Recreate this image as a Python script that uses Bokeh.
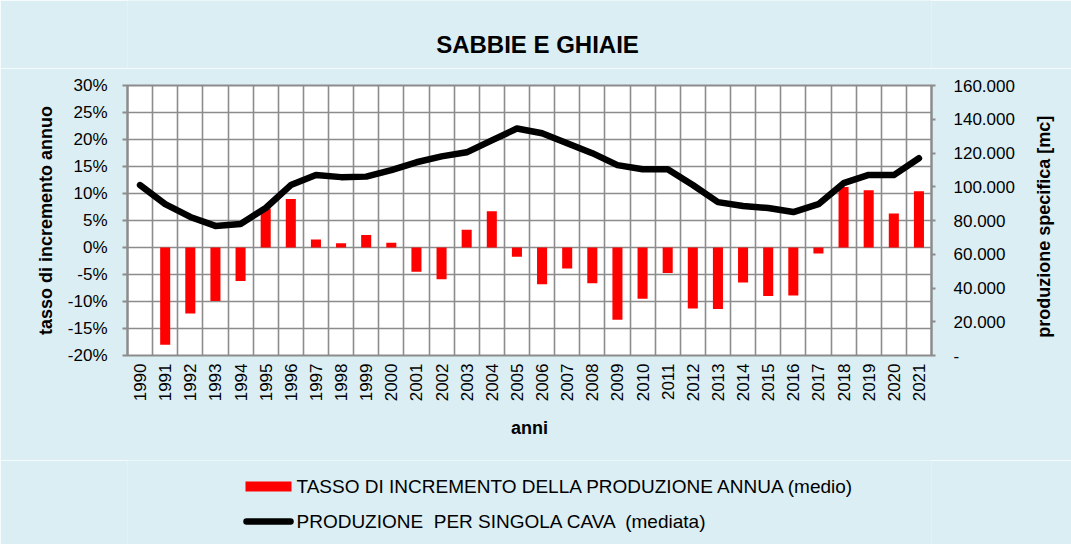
import numpy as np
from bokeh.plotting import figure
from bokeh.layouts import column
from bokeh.models import Range1d, LinearAxis, FixedTicker, PrintfTickFormatter
from bokeh.core.properties import value
from bokeh.embed import file_html
from bokeh.resources import INLINE

# ---------------- data ----------------
years = ["1990", "1991", "1992", "1993", "1994", "1995", "1996", "1997", "1998", "1999",
         "2000", "2001", "2002", "2003", "2004", "2005", "2006", "2007", "2008", "2009",
         "2010", "2011", "2012", "2013", "2014", "2015", "2016", "2017", "2018", "2019",
         "2020", "2021"]

# tasso di incremento annuo (%)
tasso = [np.nan, -18.0, -12.2, -9.9, -6.2, 7.2, 9.0, 1.5, 0.8, 2.3,
         0.9, -4.5, -5.9, 3.3, 6.7, -1.7, -6.8, -3.9, -6.6, -13.4,
         -9.5, -4.7, -11.3, -11.4, -6.5, -9.0, -8.9, -1.1, 11.2, 10.6,
         6.3, 10.4]

# produzione per singola cava (mc)
produzione = [101000, 89700, 82100, 76800, 77900, 87400, 101000, 107000, 105700, 106000,
              109800, 114500, 118000, 120400, 127500, 134500, 131700, 125800, 119900, 112800,
              110400, 110400, 101000, 90900, 88600, 87400, 85000, 89700, 102100, 107000,
              106900, 116900]

left_ticks = [-20, -15, -10, -5, 0, 5, 10, 15, 20, 25, 30]
right_ticks = [0, 20000, 40000, 60000, 80000, 100000, 120000, 140000, 160000]

title_text = "SABBIE E GHIAIE"
left_label = "tasso di incremento annuo"
right_label = "produzione specifica [mc]"
x_label = "anni"
label_bars = "TASSO DI INCREMENTO DELLA PRODUZIONE ANNUA (medio)"
label_line = "PRODUZIONE \u00a0PER SINGOLA CAVA \u00a0(mediata)"

# ---------------- style ----------------
BG = "#DAEEF3"
GRID = "#8c8c8c"
FONT = "Liberation Sans"
W = 1071
BL, BR = 127, 140          # left / right borders shared by all strips (frames align)
FX0, FX1 = BL, W - BR      # frame span in pixels


def strip(height):
    f = figure(width=W, height=height, output_backend="svg", toolbar_location=None,
               x_range=Range1d(FX0, FX1), y_range=Range1d(height, 0),
               x_axis_location=None, y_axis_location=None,
               min_border_left=BL, min_border_right=BR, min_border_top=0, min_border_bottom=0,
               outline_line_color=None,
               background_fill_color=BG, border_fill_color=BG)
    f.grid.visible = False
    return f


# ---------------- title strip ----------------
top = strip(68)
top.text(x=[537], y=[44], text=[title_text], text_align="center", text_baseline="middle",
         text_font=value(FONT), text_font_style="bold", text_font_size="24px",
         text_color="black")

# ---------------- main chart ----------------
idx = list(range(len(years)))

p = figure(width=W, height=392, output_backend="svg", toolbar_location=None,
           x_range=Range1d(-0.5, len(years) - 0.5),
           y_range=Range1d(left_ticks[0], left_ticks[-1]),
           min_border_left=BL, min_border_right=BR, min_border_top=17, min_border_bottom=105,
           background_fill_color="white", border_fill_color=BG,
           outline_line_color=GRID, outline_line_width=2)
p.extra_y_ranges = {"prod": Range1d(right_ticks[0], right_ticks[-1])}

# grids
p.xgrid.ticker = FixedTicker(ticks=[i - 0.5 for i in range(len(years) + 1)])
p.ygrid.ticker = FixedTicker(ticks=left_ticks)
for g in (p.xgrid[0], p.ygrid[0]):
    g.grid_line_color = GRID
    g.grid_line_width = 1.6

# x axis
xa = p.xaxis[0]
xa.ticker = FixedTicker(ticks=idx)
xa.major_label_overrides = {i: y for i, y in zip(idx, years)}
xa.major_label_orientation = np.pi / 2
xa.major_tick_out = 0
xa.major_tick_in = 0
xa.minor_tick_line_color = None
xa.axis_line_color = None
xa.major_label_standoff = 8
xa.major_label_text_font = FONT
xa.major_label_text_font_size = "17px"
xa.major_label_text_color = "black"
xa.axis_label = x_label
xa.axis_label_text_font = FONT
xa.axis_label_text_font_style = "bold"
xa.axis_label_text_font_size = "18px"
xa.axis_label_text_color = "black"
xa.axis_label_standoff = 14

# left axis
ya = p.yaxis[0]
ya.ticker = FixedTicker(ticks=left_ticks)
ya.formatter = PrintfTickFormatter(format="%d%%")
ya.major_tick_out = 5
ya.major_tick_in = 0
ya.minor_tick_line_color = None
ya.major_tick_line_color = GRID
ya.major_tick_line_width = 2
ya.axis_line_color = GRID
ya.axis_line_width = 2
ya.major_label_standoff = 15
ya.major_label_text_font = FONT
ya.major_label_text_font_size = "17px"
ya.major_label_text_color = "black"
ya.axis_label = left_label
ya.axis_label_text_font = FONT
ya.axis_label_text_font_style = "bold"
ya.axis_label_text_font_size = "18px"
ya.axis_label_text_color = "black"
ya.axis_label_standoff = 9

# right axis (ticks and values)
ra = LinearAxis(y_range_name="prod", ticker=FixedTicker(ticks=right_ticks))
ra.major_label_overrides = {t: ("-" if t == 0 else f"{t:,}".replace(",", ".")) for t in right_ticks}
ra.major_tick_out = 4
ra.major_tick_in = 0
ra.minor_tick_line_color = None
ra.major_tick_line_color = GRID
ra.major_tick_line_width = 2
ra.axis_line_color = GRID
ra.axis_line_width = 2
ra.major_label_standoff = 18
ra.major_label_text_font = FONT
ra.major_label_text_font_size = "17px"
ra.major_label_text_color = "black"
p.add_layout(ra, "right")

# right axis title, written bottom-to-top (outer right axis carrying only the title)
title_anchor = 10500  # position (in mc) where the rotated title starts
ra2 = LinearAxis(y_range_name="prod", ticker=FixedTicker(ticks=[title_anchor]))
ra2.major_label_overrides = {title_anchor: right_label}
ra2.major_label_orientation = np.pi / 2
ra2.major_tick_out = 0
ra2.major_tick_in = 0
ra2.major_tick_line_color = None
ra2.minor_tick_line_color = None
ra2.axis_line_color = None
ra2.major_label_standoff = 26
ra2.major_label_text_font = FONT
ra2.major_label_text_font_style = "bold"
ra2.major_label_text_font_size = "18px"
ra2.major_label_text_color = "black"
p.add_layout(ra2, "right")

# glyphs
bars = p.vbar(x=idx, top=tasso, bottom=0, width=0.4, fill_color="#FF0000", line_color=None)
line = p.line(x=idx, y=produzione, y_range_name="prod", line_color="black",
              line_width=6.5, line_join="round", line_cap="round")

# ---------------- legend strip ----------------
leg = strip(84)
leg.quad(left=245, right=291, top=21, bottom=31, fill_color="#FF0000", line_color=None)
leg.line(x=[246, 290], y=[61, 61], line_color="black", line_width=6.5, line_cap="round")
leg.text(x=[296, 296], y=[26, 61], text=[label_bars, label_line],
         text_align="left", text_baseline="middle",
         text_font=value(FONT), text_font_size="19px", text_color="black")

layout = column(top, p, leg, spacing=0)
open("out.html", "w").write(file_html(layout, INLINE))
